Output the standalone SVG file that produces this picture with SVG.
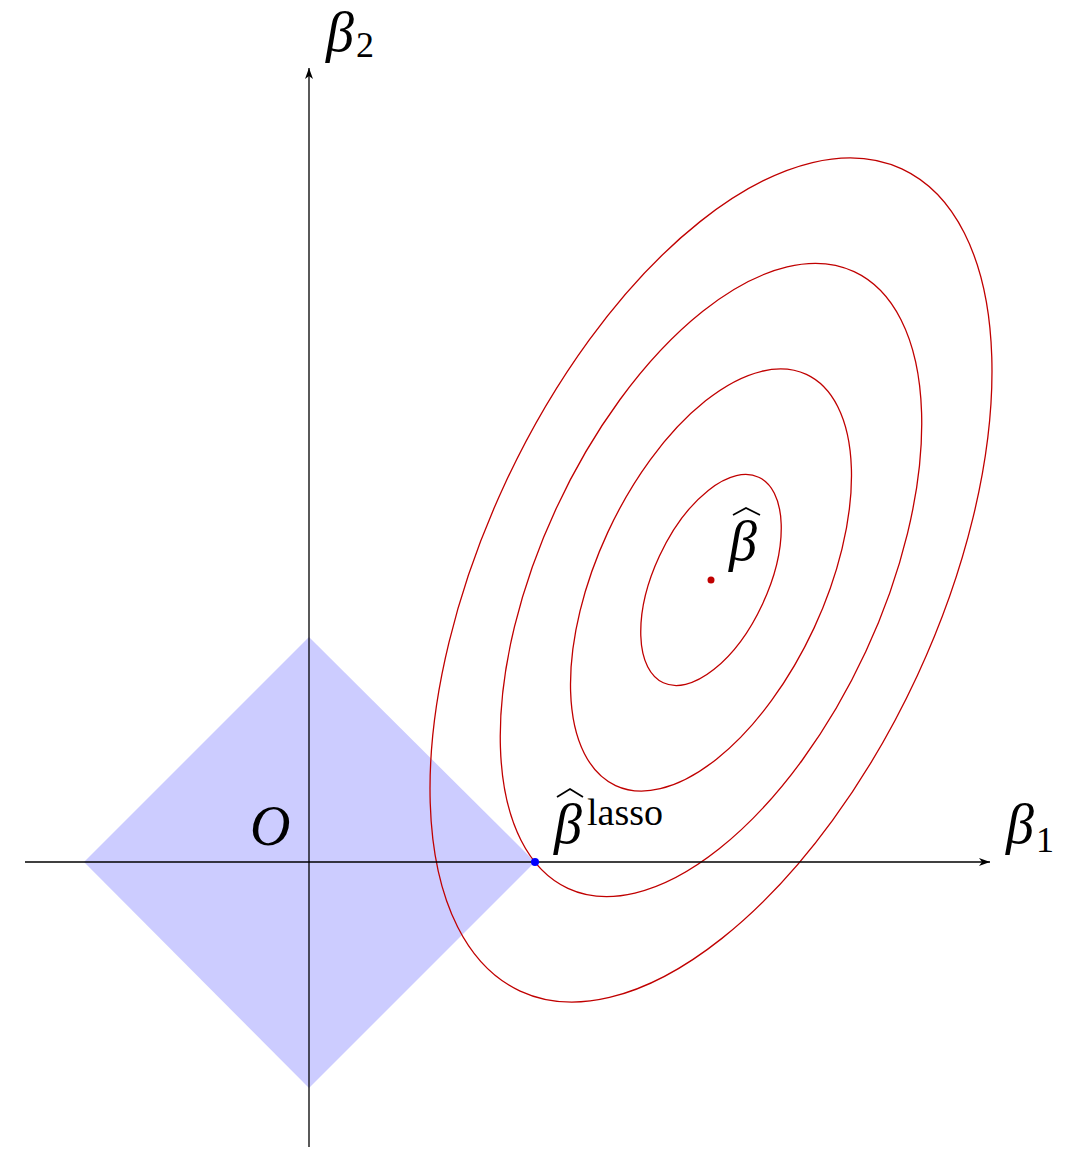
<svg xmlns="http://www.w3.org/2000/svg" width="1065" height="1154" viewBox="0 0 1065 1154">
<style>
.axis{stroke:#000;stroke-width:1.3;fill:none}
.lvl{fill:none;stroke:#c00000;stroke-width:1.3}
.hat{fill:none;stroke:#000;stroke-width:1.8}
</style>
<defs>
<marker id="arr" markerUnits="userSpaceOnUse" markerWidth="14" markerHeight="10" refX="12" refY="5" orient="auto">
<path d="M12,5 L1,1 L4,5 L1,9 Z" fill="#000"/>
</marker>
</defs>
<rect width="1065" height="1154" fill="#fff"/>
<g id="constraint">
<polygon points="84,862 309,637 535,862 309,1088" fill="#ccccff"/>
</g>
<g id="contours" transform="rotate(-65.1 711 580)">
<ellipse class="lvl" cx="711" cy="580" rx="113.3" ry="56.85"/>
<ellipse class="lvl" cx="711" cy="580" rx="226.6" ry="113.7"/>
<ellipse class="lvl" cx="711" cy="580" rx="339.9" ry="170.55"/>
<ellipse class="lvl" cx="711" cy="580" rx="453.2" ry="227.4"/>
</g>
<g id="axes">
<line class="axis" x1="25" y1="862" x2="990" y2="862" marker-end="url(#arr)"/>
<line class="axis" x1="309" y1="1147" x2="309" y2="68" marker-end="url(#arr)"/>
</g>
<g id="beta-hat">
<circle cx="711" cy="580" r="3.5" fill="#c00000"/>
<text font-family="Liberation Serif, serif" font-style="italic" x="729" y="560" font-size="56">β</text>
<polyline class="hat" points="733,515 746,508 760,515"/>
</g>
<g id="beta-lasso">
<circle cx="535" cy="862" r="4" fill="#0000ff"/>
<text font-family="Liberation Serif, serif" font-style="italic" x="554" y="843" font-size="56">β</text>
<polyline class="hat" points="557,797 570,789 583,797"/>
<text font-family="Liberation Serif, serif" x="587" y="825" font-size="38">lasso</text>
</g>
<g id="origin">
<text font-family="Liberation Serif, serif" font-style="italic" x="250" y="845" font-size="56">O</text>
</g>
<g id="label-b1">
<text font-family="Liberation Serif, serif" font-style="italic" x="1006" y="843" font-size="56">β</text>
<text font-family="Liberation Serif, serif" x="1036" y="852" font-size="36">1</text>
</g>
<g id="label-b2">
<text font-family="Liberation Serif, serif" font-style="italic" x="326" y="51" font-size="56">β</text>
<text font-family="Liberation Serif, serif" x="356" y="57" font-size="36">2</text>
</g>
</svg>
